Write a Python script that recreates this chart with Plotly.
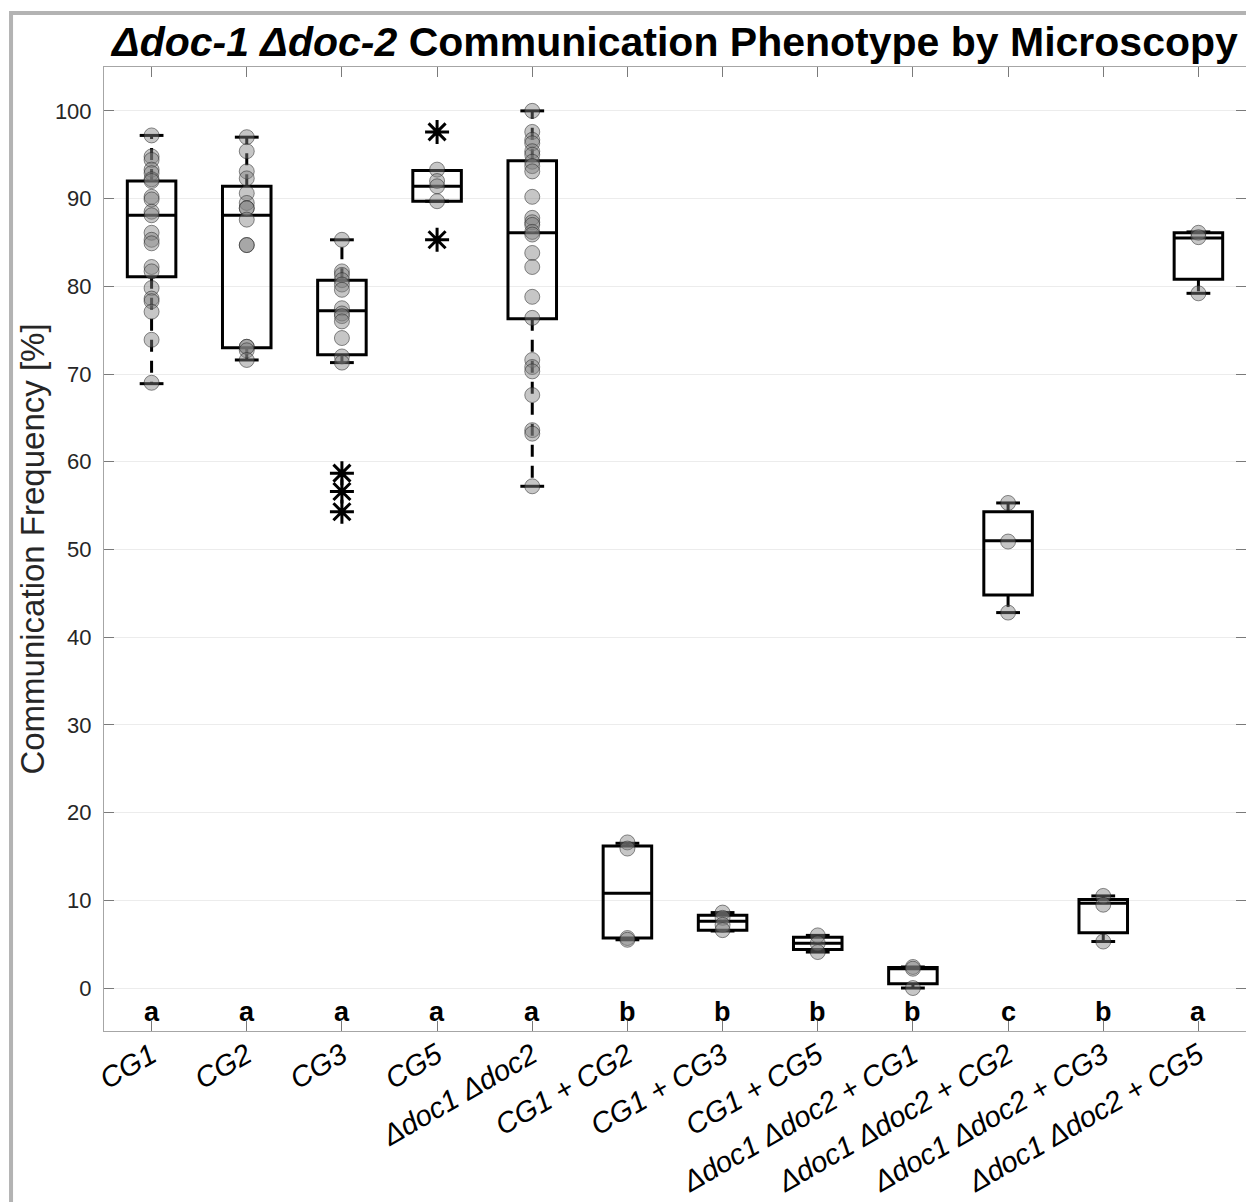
import plotly.graph_objects as go

# ---------------- data ----------------
categories = ["CG1", "CG2", "CG3", "CG5", "Δdoc1 Δdoc2", "CG1 + CG2", "CG1 + CG3",
              "CG1 + CG5", "Δdoc1 Δdoc2 + CG1", "Δdoc1 Δdoc2 + CG2",
              "Δdoc1 Δdoc2 + CG3", "Δdoc1 Δdoc2 + CG5"]

pts_cg1 = [97.2, 94.8, 94.4, 93.3, 92.9, 92.2, 92.0, 90.2, 89.9, 88.5, 88.1, 86.1,
           85.3, 84.9, 82.2, 81.7, 79.8, 78.6, 78.3, 77.1, 73.9, 69.0]
pts_cg2 = [97.0, 95.4, 93.1, 92.3, 90.6, 89.5, 88.9, 88.9, 87.6, 84.7, 84.7,
           73.1, 73.1, 72.7, 71.6]
pts_cg3 = [85.3, 81.7, 81.3, 80.7, 80.2, 79.6, 77.5, 76.9, 76.6, 76.0, 74.1, 72.0, 71.3]
pts_cg5 = [93.3, 92.0, 91.4, 89.7]
pts_ddoc = [100.0, 97.6, 96.7, 96.3, 95.4, 95.0, 94.2, 93.7, 93.1, 90.2, 87.8, 87.3,
            87.0, 86.2, 85.9, 83.8, 82.2, 78.8, 76.4, 71.6, 70.8, 70.3, 67.6, 63.6,
            63.2, 57.2]
pts_cg1_cg2 = [16.6, 15.9, 5.7, 5.5]
pts_cg1_cg3 = [8.6, 8.0, 7.2, 6.6]
pts_cg1_cg5 = [6.0, 5.1, 4.1]
pts_ddoc_cg1 = [2.4, 2.2, 0.0]
pts_ddoc_cg2 = [55.3, 50.9, 42.8]
pts_ddoc_cg3 = [10.5, 9.5, 5.3]
pts_ddoc_cg5 = [86.1, 85.6, 79.2]

points = [pts_cg1, pts_cg2, pts_cg3, pts_cg5, pts_ddoc, pts_cg1_cg2, pts_cg1_cg3,
          pts_cg1_cg5, pts_ddoc_cg1, pts_ddoc_cg2, pts_ddoc_cg3, pts_ddoc_cg5]

outliers = [[], [], [58.7, 56.6, 54.3], [97.6, 85.3], [], [], [], [], [], [], [], []]

q1 = [81.1, 73.0, 72.2, 89.7, 76.3, 5.7, 6.6, 4.4, 0.5, 44.8, 6.3, 80.8]
median = [88.1, 88.1, 77.2, 91.4, 86.1, 10.8, 7.6, 5.1, 2.2, 51.0, 9.65, 85.5]
q3 = [92.0, 91.4, 80.7, 93.2, 94.3, 16.2, 8.3, 5.8, 2.35, 54.3, 10.1, 86.1]
whisker_low = [68.9, 71.6, 71.3, 89.7, 57.2, 5.5, 6.5, 4.1, 0.0, 42.8, 5.3, 79.2]
whisker_high = [97.2, 97.0, 85.3, 93.2, 100.0, 16.5, 8.6, 6.0, 2.4, 55.3, 10.5, 86.2]

letters = ["a", "a", "a", "a", "a", "b", "b", "b", "b", "c", "b", "a"]

yticks = [0, 10, 20, 30, 40, 50, 60, 70, 80, 90, 100]

# ---------------- figure ----------------
FONT = "Liberation Sans, Arial, Helvetica, sans-serif"
pos = list(range(1, len(categories) + 1))
BOX_W = 0.51
CAP_HALF = 0.125

fig = go.Figure()

# boxes (whiskers drawn separately, dashed)
fig.add_trace(go.Box(
    x=pos, q1=q1, median=median, q3=q3, lowerfence=q1, upperfence=q3,
    width=BOX_W, whiskerwidth=0, boxpoints=False,
    fillcolor="rgba(0,0,0,0)", line=dict(color="black", width=3),
    showlegend=False, hoverinfo="skip"))

# dashed whiskers
wx, wy = [], []
for p, lo, hi, a, b in zip(pos, whisker_low, whisker_high, q1, q3):
    wx += [p, p, None, p, p, None]
    wy += [b, hi, None, a, lo, None]
fig.add_trace(go.Scatter(x=wx, y=wy, mode="lines",
                         line=dict(color="black", width=3, dash="12px,9px"),
                         showlegend=False, hoverinfo="skip"))

# whisker caps
cx, cy = [], []
for p, lo, hi in zip(pos, whisker_low, whisker_high):
    cx += [p - CAP_HALF, p + CAP_HALF, None, p - CAP_HALF, p + CAP_HALF, None]
    cy += [hi, hi, None, lo, lo, None]
fig.add_trace(go.Scatter(x=cx, y=cy, mode="lines",
                         line=dict(color="black", width=3),
                         showlegend=False, hoverinfo="skip"))

# data points
px, py = [], []
for p, vals in zip(pos, points):
    px += [p] * len(vals)
    py += vals
fig.add_trace(go.Scatter(x=px, y=py, mode="markers",
                         marker=dict(size=15, color="rgba(128,128,128,0.45)",
                                     line=dict(color="rgba(30,30,30,0.5)", width=1)),
                         showlegend=False, hoverinfo="skip"))

# outliers
ox, oy = [], []
for p, vals in zip(pos, outliers):
    ox += [p] * len(vals)
    oy += vals
fig.add_trace(go.Scatter(x=ox, y=oy, mode="markers",
                         marker=dict(symbol="asterisk-open", size=20, color="black",
                                     line=dict(color="black", width=3)),
                         showlegend=False, hoverinfo="skip"))

# significance letters
for p, l in zip(pos, letters):
    fig.add_annotation(x=p, y=-2.75, text="<b>%s</b>" % l, showarrow=False,
                       xref="x", yref="y", yanchor="middle",
                       font=dict(family=FONT, size=27, color="black"))

# outer gray frame (figure border, partially cropped)
fig.add_shape(type="rect", xref="paper", yref="paper",
              x0=-0.0814, x1=1.02, y0=-0.2, y1=1.056,
              line=dict(color="#b3b3b3", width=4), fillcolor="rgba(0,0,0,0)")

fig.update_layout(
    width=1246, height=1202,
    margin=dict(l=104, r=0, t=67, b=171, autoexpand=False),
    paper_bgcolor="white", plot_bgcolor="white",
    font=dict(family=FONT, color="#262626"),
    title=dict(text="<b><i>Δdoc-1 Δdoc-2</i> Communication Phenotype by Microscopy</b>",
               x=0.5, xref="paper", xanchor="center",
               y=1 - 42 / 1202, yref="container", yanchor="middle",
               font=dict(family=FONT, size=41, color="black")),
)

fig.update_xaxes(
    range=[0.5, len(categories) + 0.5],
    tickmode="array", tickvals=pos, ticktext=categories,
    tickangle=-30, automargin=False, ticklabelstandoff=-5,
    tickfont=dict(family=FONT, size=29, color="black", style="italic"),
    ticks="inside", ticklen=10, tickcolor="#7a7a7a", tickwidth=1,
    showline=True, linecolor="#a6a6a6", linewidth=1, mirror="ticks",
    showgrid=False, zeroline=False,
)
fig.update_yaxes(
    range=[-4.9, 105], automargin=False,
    tickmode="array", tickvals=yticks,
    tickfont=dict(family=FONT, size=22, color="#262626"),
    ticklabelstandoff=7,
    ticks="inside", ticklen=10, tickcolor="#7a7a7a", tickwidth=1,
    showline=True, linecolor="#a6a6a6", linewidth=1, mirror="ticks",
    showgrid=True, gridcolor="#ececec", gridwidth=1, zeroline=False,
    title=dict(text="Communication Frequency [%]",
               font=dict(family=FONT, size=33, color="#262626"), standoff=0),
)

fig.write_html("out.html")
